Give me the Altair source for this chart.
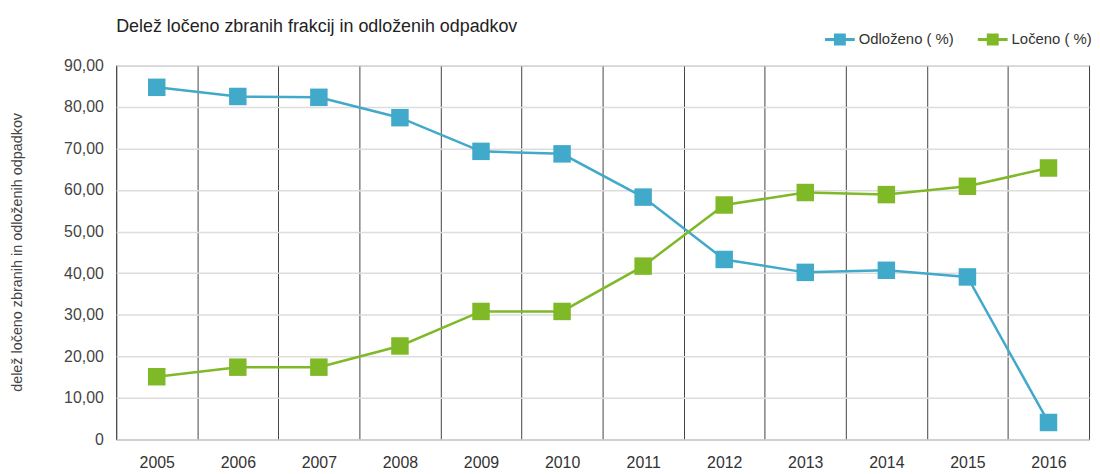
import altair as alt
import pandas as pd

years = ["2005", "2006", "2007", "2008", "2009", "2010", "2011", "2012", "2013", "2014", "2015", "2016"]
odlozeno = [84.7, 82.5, 82.3, 77.4, 69.3, 68.7, 58.3, 43.3, 40.2, 40.7, 39.1, 4.1]
loceno = [15.1, 17.4, 17.4, 22.5, 30.8, 30.8, 41.7, 56.4, 59.4, 58.9, 60.9, 65.3]
series_names = ["Odloženo ( %)", "Ločeno ( %)"]
series_colors = ["#41A9C9", "#7FB928"]
y_ticks = [0, 10, 20, 30, 40, 50, 60, 70, 80, 90]

rows = []
for name, vals in zip(series_names, [odlozeno, loceno]):
    for yr, v in zip(years, vals):
        rows.append({"leto": yr, "serija": name, "vrednost": v})
df = pd.DataFrame(rows)

FONT = "Liberation Sans"

legend_symbol = "M-1,-0.1H1V0.1H-1Z M-0.4,-0.4H0.4V0.4H-0.4Z"

chart = alt.Chart(df).mark_line(
    strokeWidth=2.5,
    point=alt.OverlayMarkDef(shape="square", size=310, filled=True, opacity=1),
).encode(
    x=alt.X("leto:O", sort=years,
            scale=alt.Scale(type="band", paddingInner=0, paddingOuter=0),
            axis=alt.Axis(title=None, labelAngle=0, grid=True, tickBand="extent",
                          gridColor="#444", gridWidth=1, ticks=False, domain=False,
                          labelPadding=15, labelFontSize=16, labelColor="#333",
                          labelFont=FONT)),
    y=alt.Y("vrednost:Q",
            scale=alt.Scale(domain=[0, 90], nice=False),
            axis=alt.Axis(title="delež ločeno zbranih in odloženih odpadkov",
                          values=y_ticks,
                          labelExpr="datum.value == 0 ? '0' : replace(format(datum.value, '.2f'), '.', ',')",
                          grid=True, gridColor="#dddddd", gridWidth=1.5, ticks=False,
                          domain=False, labelPadding=13, labelFontSize=16,
                          labelColor="#444", labelFont=FONT,
                          titleFont=FONT, titleFontSize=14.5, titleFontWeight="normal",
                          titleColor="#444", titleAngle=-90, titleX=-99, titleY=188,
                          titleAlign="center", titleBaseline="middle")),
    color=alt.Color("serija:N", sort=series_names,
                    scale=alt.Scale(domain=series_names, range=series_colors),
                    legend=alt.Legend(title=None, orient="none", direction="horizontal",
                                      legendX=714, legendY=-41,
                                      symbolType=legend_symbol, symbolSize=900,
                                      symbolStrokeWidth=0, symbolOpacity=1,
                                      labelFont=FONT, labelFontSize=15,
                                      labelColor="#333", labelOffset=4,
                                      columnPadding=24)),
).properties(
    width=980,
    height=377,
    title=alt.TitleParams("Delež ločeno zbranih frakcij in odloženih odpadkov",
                          anchor="start", frame="group", font=FONT, fontSize=18,
                          fontWeight="normal", color="#222", offset=-25,
                          baseline="alphabetic"),
    autosize=alt.AutoSizeParams(type="none"),
    padding={"left": 109, "top": 56, "right": 3, "bottom": 30},
).configure_view(stroke="#555", strokeWidth=1)

chart.save("out.html", embed_options={"renderer": "svg", "actions": False})
